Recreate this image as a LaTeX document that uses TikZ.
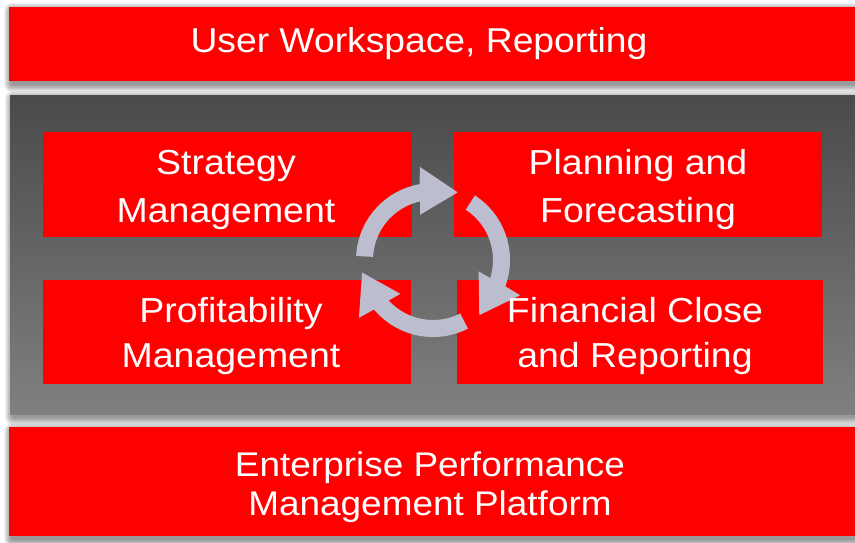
\documentclass[tikz,border=0pt]{standalone}
\usepackage{fontspec}
\setmainfont{Liberation Sans}[FakeStretch=1.08]
\begin{document}
\begin{tikzpicture}[x=1pt,y=1pt,
  redbox/.style={fill=red, draw=none, inner sep=0pt, outer sep=0pt},
  panelbox/.style={top color=panelTop, bottom color=panelBot, draw=none, inner sep=0pt, outer sep=0pt},
  lbl/.style={text=white, inner sep=0pt, anchor=base, align=center},
  cyc/.style={fill=cycleCol, draw=none}]
\definecolor{panelTop}{RGB}{74,74,74}
\definecolor{panelBot}{RGB}{128,128,128}
\definecolor{cycleCol}{RGB}{188,189,206}
\useasboundingbox (0,0) rectangle (855,-542);
\fill[white] (0,0) rectangle (855,-542);
% soft shadows
\foreach \xa/\ya/\xb/\yb in {9/7/855/81, 10/95/855/414, 9/427/855/536}{
  \foreach \k in {1,...,8}{
    \fill[black, opacity=0.06, rounded corners=\k] (\xa+3-\k,-\ya-4+\k) rectangle (\xb-1+\k,-\yb-3-\k);
  }
}
% main bands
\node[redbox, minimum width=846, minimum height=74] (top) at (432,-44) {};
\node[panelbox, minimum width=845, minimum height=319] (panel) at (432.5,-254.5) {};
\node[redbox, minimum width=846, minimum height=109] (bottom) at (432,-481.5) {};
% inner boxes
\node[redbox, minimum width=369, minimum height=105] (strat) at (227.5,-184.5) {};
\node[redbox, minimum width=368, minimum height=105] (plan) at (638,-184.5) {};
\node[redbox, minimum width=368, minimum height=104] (prof) at (227,-332) {};
\node[redbox, minimum width=366, minimum height=104] (fin) at (640,-332) {};
% cycle arrows
\begin{scope}[shift={(433,-260)}]
\foreach \r in {0,-120,-240}{
  \fill[cyc, rotate=\r] (177:77) arc[start angle=177, end angle=100, radius=77]
     -- (98:94) -- (70:72) -- (106:47) -- (102.5:60)
     arc[start angle=102.5, end angle=177, radius=60] -- cycle;
}
\end{scope}
% labels (anchor base = baseline of the last line)
\node[lbl, font=\fontsize{34.5}{40}\selectfont] (tTop) at (419,-52.5) {User Workspace, Reporting};
\node[lbl, font=\fontsize{34.7}{48}\selectfont] (tStrat) at (226,-222) {Strategy\\Management};
\node[lbl, font=\fontsize{34.7}{48}\selectfont] (tPlan) at (638,-222) {Planning and\\Forecasting};
\node[lbl, font=\fontsize{34.7}{45}\selectfont] (tProf) at (231,-367) {Profitability\\Management};
\node[lbl, font=\fontsize{34.7}{45}\selectfont] (tFin) at (635,-367) {Financial Close\\and Reporting};
\node[lbl, font=\fontsize{34.2}{39}\selectfont] (tBot) at (430,-515) {Enterprise Performance\\Management Platform};
\end{tikzpicture}
\end{document}
